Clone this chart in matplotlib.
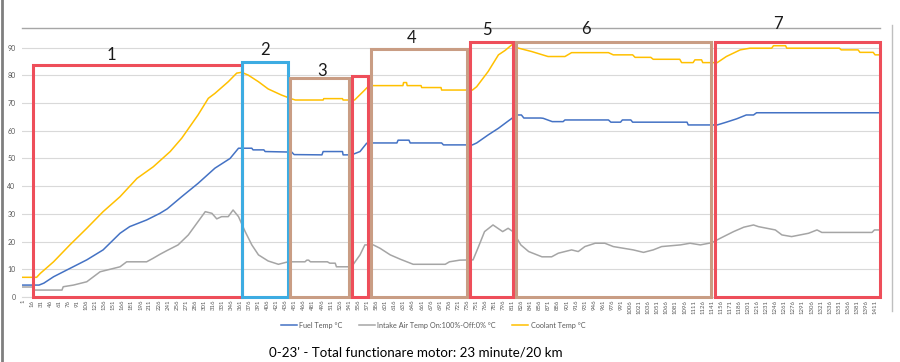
import matplotlib.pyplot as plt
from matplotlib.patches import Rectangle
from matplotlib.lines import Line2D

plt.rcParams["font.family"] = ["Lato", "DejaVu Sans"]

# breakpoints (sample index -> temperature)
coolant_x = [1, 24, 30, 52, 79, 107, 134, 162, 190, 217, 245, 264, 291, 308, 319, 341, 355, 363, 374,
             391, 407, 429, 446, 452, 498, 499, 530, 531, 550, 564, 574, 630, 631, 636, 637, 660, 661,
             693, 694, 745, 752, 771, 788, 799, 810, 818, 843, 870, 898, 909, 970, 978, 1010, 1014,
             1040, 1044, 1088, 1091, 1110, 1113, 1124, 1126, 1150, 1165, 1188, 1204, 1240, 1243, 1263,
             1265, 1352, 1355, 1383, 1386, 1408, 1411, 1418]
coolant_y = [7.1, 7.1, 8.5, 12.7, 18.8, 24.8, 30.8, 36.2, 42.8, 47, 52.5, 57.3, 65.7, 71.7, 73.5, 77.7,
             80.8, 81.1, 80.1, 77.7, 75.1, 72.9, 71.5, 71.1, 71.1, 71.6, 71.6, 71.1, 71.1, 74.1, 76.3,
             76.3, 77.4, 77.4, 76.3, 76.3, 75.6, 75.6, 74.7, 74.7, 75.9, 81.4, 87.4, 89, 91, 90, 88.6,
             86.8, 86.8, 88.2, 88.2, 87.4, 87.4, 86.5, 86.5, 85.8, 85.8, 84.6, 84.6, 85.6, 85.6, 84.6,
             84.6, 86.8, 89.2, 89.8, 89.8, 90.7, 90.7, 89.8, 89.8, 89.2, 89.2, 88.3, 88.3, 87.4, 87.4]

fuel_x = [1, 28, 36, 52, 79, 107, 134, 162, 178, 206, 228, 240, 264, 291, 319, 344, 358, 380, 382, 400,
          402, 446, 450, 496, 498, 530, 531, 545, 559, 570, 575, 620, 622, 640, 642, 694, 697, 745, 752,
          771, 788, 804, 818, 826, 830, 858, 862, 877, 895, 898, 970, 974, 990, 993, 1007, 1010, 1100,
          1102, 1150, 1165, 1182, 1198, 1210, 1215, 1418]
fuel_y = [4.3, 4.3, 5.0, 7.3, 10.3, 13.4, 17, 23, 25.4, 27.8, 30.2, 31.8, 36.2, 41, 46.5, 50, 53.7, 53.7,
          53.1, 53.1, 52.5, 52.3, 51.4, 51.3, 52.5, 52.5, 51.3, 51.3, 52.5, 55.5, 55.6, 55.6, 56.6,
          56.6, 55.6, 55.6, 54.9, 54.9, 55.6, 58.5, 60.9, 63.5, 65.7, 65.7, 64.6, 64.6, 64.5, 63.3,
          63.3, 63.9, 63.9, 63.1, 63.1, 63.9, 63.9, 63.1, 63.1, 62.1, 62.1, 63.1, 64.3, 65.7, 65.7,
          66.5, 66.5]

intake_x = [1, 18, 20, 66, 68, 85, 107, 129, 140, 162, 173, 206, 217, 228, 240, 258, 275, 291, 303, 314,
            322, 330, 341, 349, 358, 369, 380, 391, 407, 424, 440, 468, 471, 474, 477, 505, 509, 518,
            520, 545, 559, 567, 581, 592, 609, 626, 647, 700, 707, 724, 746, 754, 765, 779, 787, 795,
            804, 812, 825, 838, 860, 876, 887, 909, 920, 931, 948, 964, 978, 1011, 1028, 1044, 1058,
            1089, 1105, 1122, 1141, 1155, 1177, 1194, 1210, 1218, 1246, 1257, 1273, 1301, 1315, 1323,
            1406, 1410, 1418]
intake_y = [3.6, 3.6, 2.5, 2.5, 3.7, 4.3, 5.5, 9.1, 9.7, 10.9, 12.7, 12.7, 14, 15.4, 16.8, 18.8, 22.4,
            27.2, 30.8, 30.2, 28.2, 29, 29, 31.4, 29, 23.6, 18.8, 15.2, 13, 11.8, 12.7, 12.7, 13.3,
            13.3, 12.7, 12.7, 12.2, 12.2, 10.9, 10.9, 15.2, 18.8, 18.8, 17.6, 15.2, 13.6, 11.8, 11.8,
            12.7, 13.3, 13.4, 17.6, 23.6, 26, 24.8, 23.6, 24.8, 23.6, 18.8, 16.4, 14.5, 14.5, 15.8, 17,
            16.4, 18.2, 19.4, 19.4, 18.2, 17, 16.1, 17, 18.2, 18.8, 19.4, 18.8, 19.6, 21.2, 23.6, 25.2,
            26, 25.4, 24.2, 22.4, 21.8, 23, 24.2, 23.3, 23.3, 24.2, 24.2]

tick_labels = list(range(1, 1412, 15))

# phase boxes: label, start, end, top, colour kind
box_labels = ["1", "2", "3", "", "4", "5", "6", "7"]
box_start = [18.5, 364, 443, 545, 577, 741, 816.5, 1145.5]
box_end = [364, 440, 541, 573, 736.5, 812.5, 1140, 1420]
box_top = [83.8, 84.7, 79.2, 79.9, 89.5, 91.9, 92.2, 91.9]
box_kind = ["red", "blue", "tan", "red", "tan", "red", "tan", "red"]
label_x = [148, 401, 497, None, 644, 769, 932, 1251]
label_y = [87.5, 89.2, 81.6, None, 93.4, 96.2, 96.8, 98.6]

colors = {"red": "#EE4E5A", "blue": "#3DACE2", "tan": "#C99D84"}

fig = plt.figure(figsize=(9, 3.62), dpi=100)
ax = fig.add_axes([0.0249, 0.1796, 0.9524, 0.7431])

ax.plot(fuel_x, fuel_y, color="#4472C4", lw=1.1, label="Fuel Temp °C")
ax.plot(intake_x, intake_y, color="#A5A5A5", lw=1.1, label="Intake Air Temp On:100%-Off:0% °C")
ax.plot(coolant_x, coolant_y, color="#FFC000", lw=1.1, label="Coolant Temp °C")

for lab, x0, x1, top, kind, lx, ly in zip(box_labels, box_start, box_end, box_top, box_kind, label_x, label_y):
    ax.add_patch(Rectangle((x0, 0), x1 - x0, top, fill=False, edgecolor=colors[kind],
                           lw=2.2, zorder=5, clip_on=False))
    if lab:
        ax.text(lx, ly, lab, fontsize=12, ha="center", va="center", color="#1a1a1a",
                clip_on=False, zorder=6)

ax.set_xlim(0.5, 1418.5)
ax.set_ylim(0, 97.1)
ax.set_yticks(range(0, 100, 10))
ax.set_xticks(tick_labels)
ax.set_xticklabels([str(t) for t in tick_labels], rotation=90, fontsize=4.3, color="#595959")
ax.tick_params(axis="y", labelsize=5, colors="#595959", length=0, pad=5)
ax.tick_params(axis="x", length=0, pad=2)
ax.grid(axis="y", color="#D9D9D9", lw=0.8)
ax.set_axisbelow(True)
for s in ["left", "right"]:
    ax.spines[s].set_visible(False)
ax.spines["bottom"].set_color("#D9D9D9")
ax.spines["top"].set_color("#A6A6A6")
ax.spines["top"].set_linewidth(1.0)

fig.add_artist(Line2D([0.991, 0.991], [0.14, 0.93], color="#BFBFBF", lw=1.0))
fig.add_artist(Line2D([0.002, 0.002], [0.0, 1.0], color="#7F7F7F", lw=2.0))

leg = fig.legend(loc="center", bbox_to_anchor=(0.481, 0.102), ncol=3, frameon=False,
                 fontsize=5.2, handlelength=2.3, columnspacing=2.2, handletextpad=0.3)
for t in leg.get_texts():
    t.set_color("#595959")

fig.text(0.462, 0.027, "0-23' - Total functionare motor: 23 minute/20 km", ha="center", va="center",
         fontsize=9.6, color="#000000")

fig.savefig("out.png", dpi=100)
